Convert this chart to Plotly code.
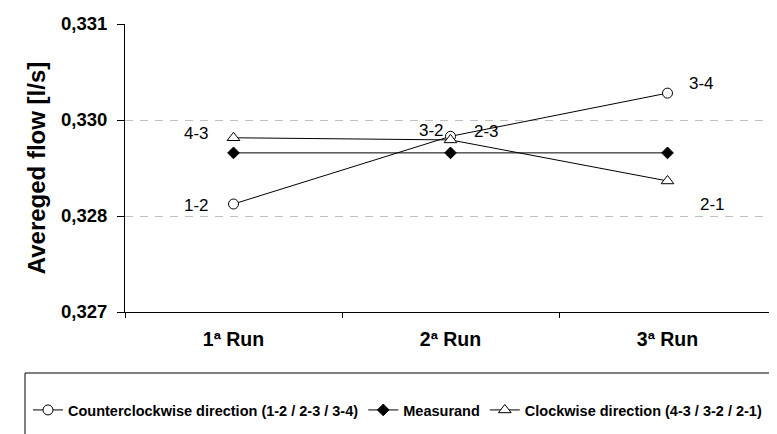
import plotly.graph_objects as go

categories = ["1ª Run", "2ª Run", "3ª Run"]
ccw_values = [0.32850, 0.32944, 0.33004]
measurand_values = [0.32921, 0.32921, 0.32921]
cw_values = [0.32942, 0.32939, 0.32882]
ccw_labels = ["1-2", "2-3", "3-4"]
cw_labels = ["4-3", "3-2", "2-1"]
y_tickvals = [0.327, 0.327 + 0.004 / 3, 0.327 + 0.008 / 3, 0.331]
y_ticktext = ["0,327", "0,328", "0,330", "0,331"]

FONT = "Liberation Sans, Arial, sans-serif"

fig = go.Figure()
fig.add_trace(go.Scatter(
    x=categories, y=ccw_values, mode="lines+markers",
    name="Counterclockwise direction (1-2 / 2-3 / 3-4)",
    line=dict(color="black", width=1),
    marker=dict(symbol="circle", size=10, color="white", line=dict(color="black", width=1)),
))
fig.add_trace(go.Scatter(
    x=categories, y=measurand_values, mode="lines+markers",
    name="Measurand",
    line=dict(color="black", width=1),
    marker=dict(symbol="diamond", size=9, color="black", line=dict(color="black", width=1)),
))
fig.add_trace(go.Scatter(
    x=categories, y=cw_values, mode="lines+markers",
    name="Clockwise direction (4-3 / 3-2 / 2-1)",
    line=dict(color="black", width=1),
    marker=dict(symbol="triangle-up", size=11, color="white", line=dict(color="black", width=1)),
))

# point labels
label_style = dict(showarrow=False, font=dict(family=FONT, size=17, color="black"))
# (xanchor, xshift, yshift) per label
cw_pos = [("right", -23, 4), ("right", -5, 9), ("left", 30, -24)]
ccw_pos = [("right", -23, -1), ("left", 21, 5), ("left", 19, 10)]
for i in range(3):
    xa, xs, ys = cw_pos[i]
    fig.add_annotation(x=categories[i], y=cw_values[i], text=cw_labels[i],
                       xanchor=xa, xshift=xs, yshift=ys, **label_style)
    xa, xs, ys = ccw_pos[i]
    fig.add_annotation(x=categories[i], y=ccw_values[i], text=ccw_labels[i],
                       xanchor=xa, xshift=xs, yshift=ys, **label_style)

# legend frame
fig.add_shape(type="rect", xref="paper", yref="paper",
              x0=(17 - 117) / 651, x1=(790 - 117) / 651,
              y0=(304 - 365) / 288, y1=(304 - 460) / 288,
              line=dict(color="black", width=1), fillcolor="rgba(0,0,0,0)")

fig.update_layout(
    width=777, height=434,
    margin=dict(l=117, r=9, t=16, b=130),
    paper_bgcolor="white", plot_bgcolor="white",
    font=dict(family=FONT, color="black"),
    showlegend=True,
    legend=dict(
        orientation="h", x=(20 - 117) / 651, xanchor="left",
        y=(304 - 402) / 288, yanchor="middle",
        font=dict(family=FONT, size=14.5, color="black", weight="bold"),
        itemwidth=30, bgcolor="rgba(0,0,0,0)", borderwidth=0,
        tracegroupgap=0,
    ),
    xaxis=dict(
        type="category", range=[-0.5, 2.5],
        showline=True, linecolor="black", linewidth=1,
        ticks="outside", tickson="boundaries", ticklen=5, tickcolor="black",
        tickfont=dict(family=FONT, size=19.5, weight="bold"),
        ticklabelstandoff=10,
        showgrid=False, zeroline=False, fixedrange=True,
    ),
    yaxis=dict(
        range=[0.327, 0.331],
        tickvals=y_tickvals, ticktext=y_ticktext,
        showline=True, linecolor="black", linewidth=1,
        ticks="outside", ticklen=7, tickcolor="black",
        tickfont=dict(family=FONT, size=18.5, weight="bold"),
        ticklabelstandoff=6,
        showgrid=True, gridcolor="#c0c0c0", griddash="8px,7px", gridwidth=1,
        zeroline=False,
        title=dict(text="Avereged flow [l/s]", standoff=8,
                   font=dict(family=FONT, size=24, weight="bold")),
        automargin=False,
    ),
)

fig.write_html("out.html")
